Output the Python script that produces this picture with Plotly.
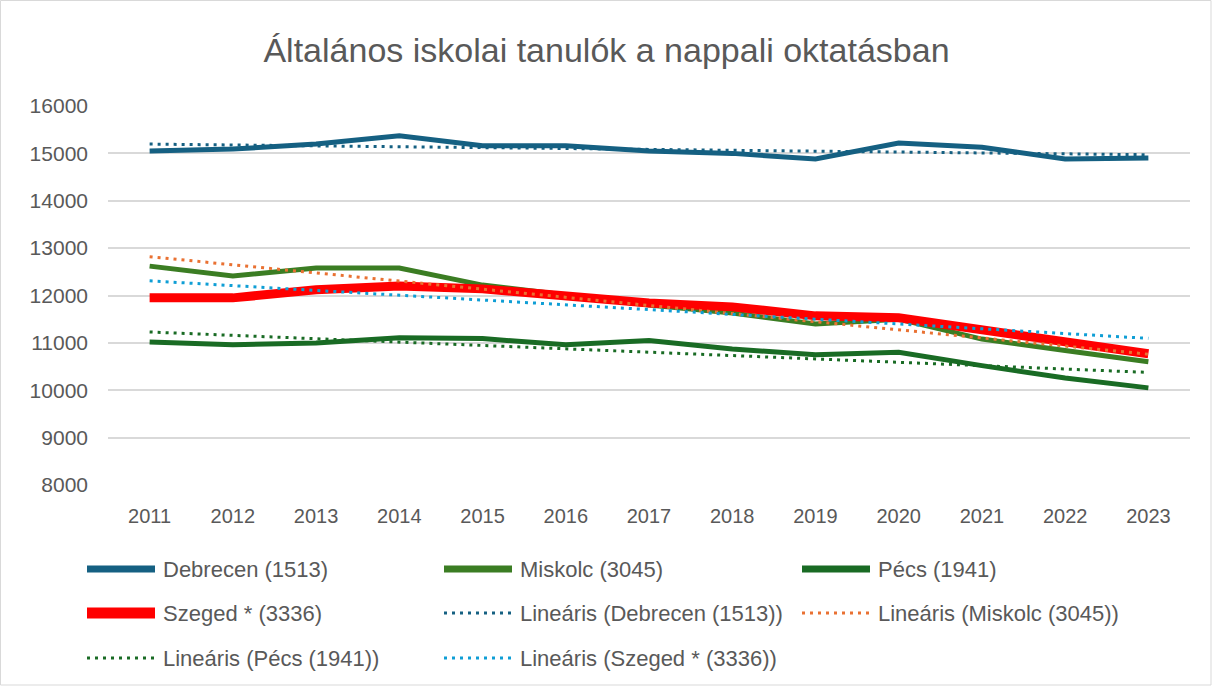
import numpy as np
import plotly.graph_objects as go

years = [2011, 2012, 2013, 2014, 2015, 2016, 2017, 2018, 2019, 2020, 2021, 2022, 2023]
debrecen = [15050, 15090, 15200, 15370, 15160, 15160, 15050, 15000, 14880, 15220, 15130, 14880, 14900]
miskolc = [12620, 12410, 12580, 12580, 12220, 12010, 11800, 11630, 11400, 11500, 11080, 10840, 10600]
pecs = [11020, 10960, 11000, 11110, 11090, 10960, 11050, 10870, 10750, 10800, 10520, 10260, 10050]
szeged = [11950, 11950, 12120, 12200, 12140, 11990, 11840, 11760, 11570, 11530, 11270, 11040, 10770]

names = ["Debrecen (1513)", "Miskolc (3045)", "Pécs (1941)", "Szeged * (3336)"]
series = [debrecen, miskolc, pecs, szeged]
colors = ["#156082", "#3B7D23", "#196B24", "#FF0000"]
widths = [5, 5, 5, 9]
trend_colors = ["#156082", "#E97132", "#196B24", "#0F9ED5"]
title = "Általános iskolai tanulók a nappali oktatásban"

FONT = "Liberation Sans"
TXT = "#595959"
DOT = "3px,5px"

fig = go.Figure()
for i, (n, s) in enumerate(zip(names, series)):
    fig.add_trace(go.Scatter(x=years, y=s, mode="lines", name=n, showlegend=False,
                             line=dict(color=colors[i], width=widths[i])))
xa = np.array(years, dtype=float)
for i, (n, s) in enumerate(zip(names, series)):
    k, b = np.polyfit(xa, np.array(s, dtype=float), 1)
    fig.add_trace(go.Scatter(x=years, y=k * xa + b, mode="lines", name=f"Lineáris ({n})",
                             showlegend=False,
                             line=dict(color=trend_colors[i], width=3, dash=DOT)))

W, H = 1213, 687
ml, mr, mt, mb = 108, 23, 106, 202
pw, ph = W - ml - mr, H - mt - mb

def py(ypix):
    return (H - mb - ypix) / ph

def px(xpix):
    return (xpix - ml) / pw

# custom legend (3 columns, 3 rows), in the order of the traces
entries = [(n, colors[i], widths[i] + 2, "solid") for i, n in enumerate(names)]
entries += [(f"Lineáris ({n})", trend_colors[i], 3, DOT) for i, n in enumerate(names)]
col_x = [85, 442, 800]
row_y = [569, 613, 658]
sym_len = 70
shapes = [dict(type="rect", xref="paper", yref="paper",
               x0=px(0.5), x1=px(W - 2), y0=py(H - 2), y1=py(0.5),
               line=dict(color="#D9D9D9", width=1))]
annotations = []
for j, (label, col, lw, dash) in enumerate(entries):
    r, c = divmod(j, 3)
    x0, yc = col_x[c], row_y[r]
    shapes.append(dict(type="line", xref="paper", yref="paper",
                       x0=px(x0 + 2), x1=px(x0 + sym_len), y0=py(yc), y1=py(yc),
                       line=dict(color=col, width=lw, dash=dash)))
    annotations.append(dict(text=label, xref="paper", yref="paper", x=px(x0 + sym_len + 6),
                            y=py(yc), xanchor="left", yanchor="middle", showarrow=False,
                            font=dict(family=FONT, size=22, color=TXT)))

fig.update_layout(
    width=W, height=H,
    margin=dict(l=ml, r=mr, t=mt, b=mb),
    paper_bgcolor="white", plot_bgcolor="white",
    showlegend=False,
    title=dict(text=title, x=0.5, xanchor="center", y=1 - 50 / H, yanchor="middle",
               font=dict(family=FONT, size=34, color=TXT)),
    xaxis=dict(range=[2010.5, 2023.5], tickmode="array", tickvals=years,
               ticktext=[str(y) for y in years], showgrid=False, zeroline=False,
               showline=False, ticks="", ticklabelstandoff=17,
               tickfont=dict(family=FONT, size=20, color=TXT)),
    yaxis=dict(range=[8000, 16000], dtick=1000, showgrid=True, gridcolor="#D9D9D9",
               gridwidth=1.5, zeroline=False, showline=False, ticks="",
               ticklabelstandoff=19,
               tickformat="d", tickfont=dict(family=FONT, size=21, color=TXT)),
    shapes=shapes,
    annotations=annotations,
)

fig.write_html("out.html", config={"displayModeBar": False},
               post_script="document.body.style.margin='0';document.body.style.overflow='hidden';")
